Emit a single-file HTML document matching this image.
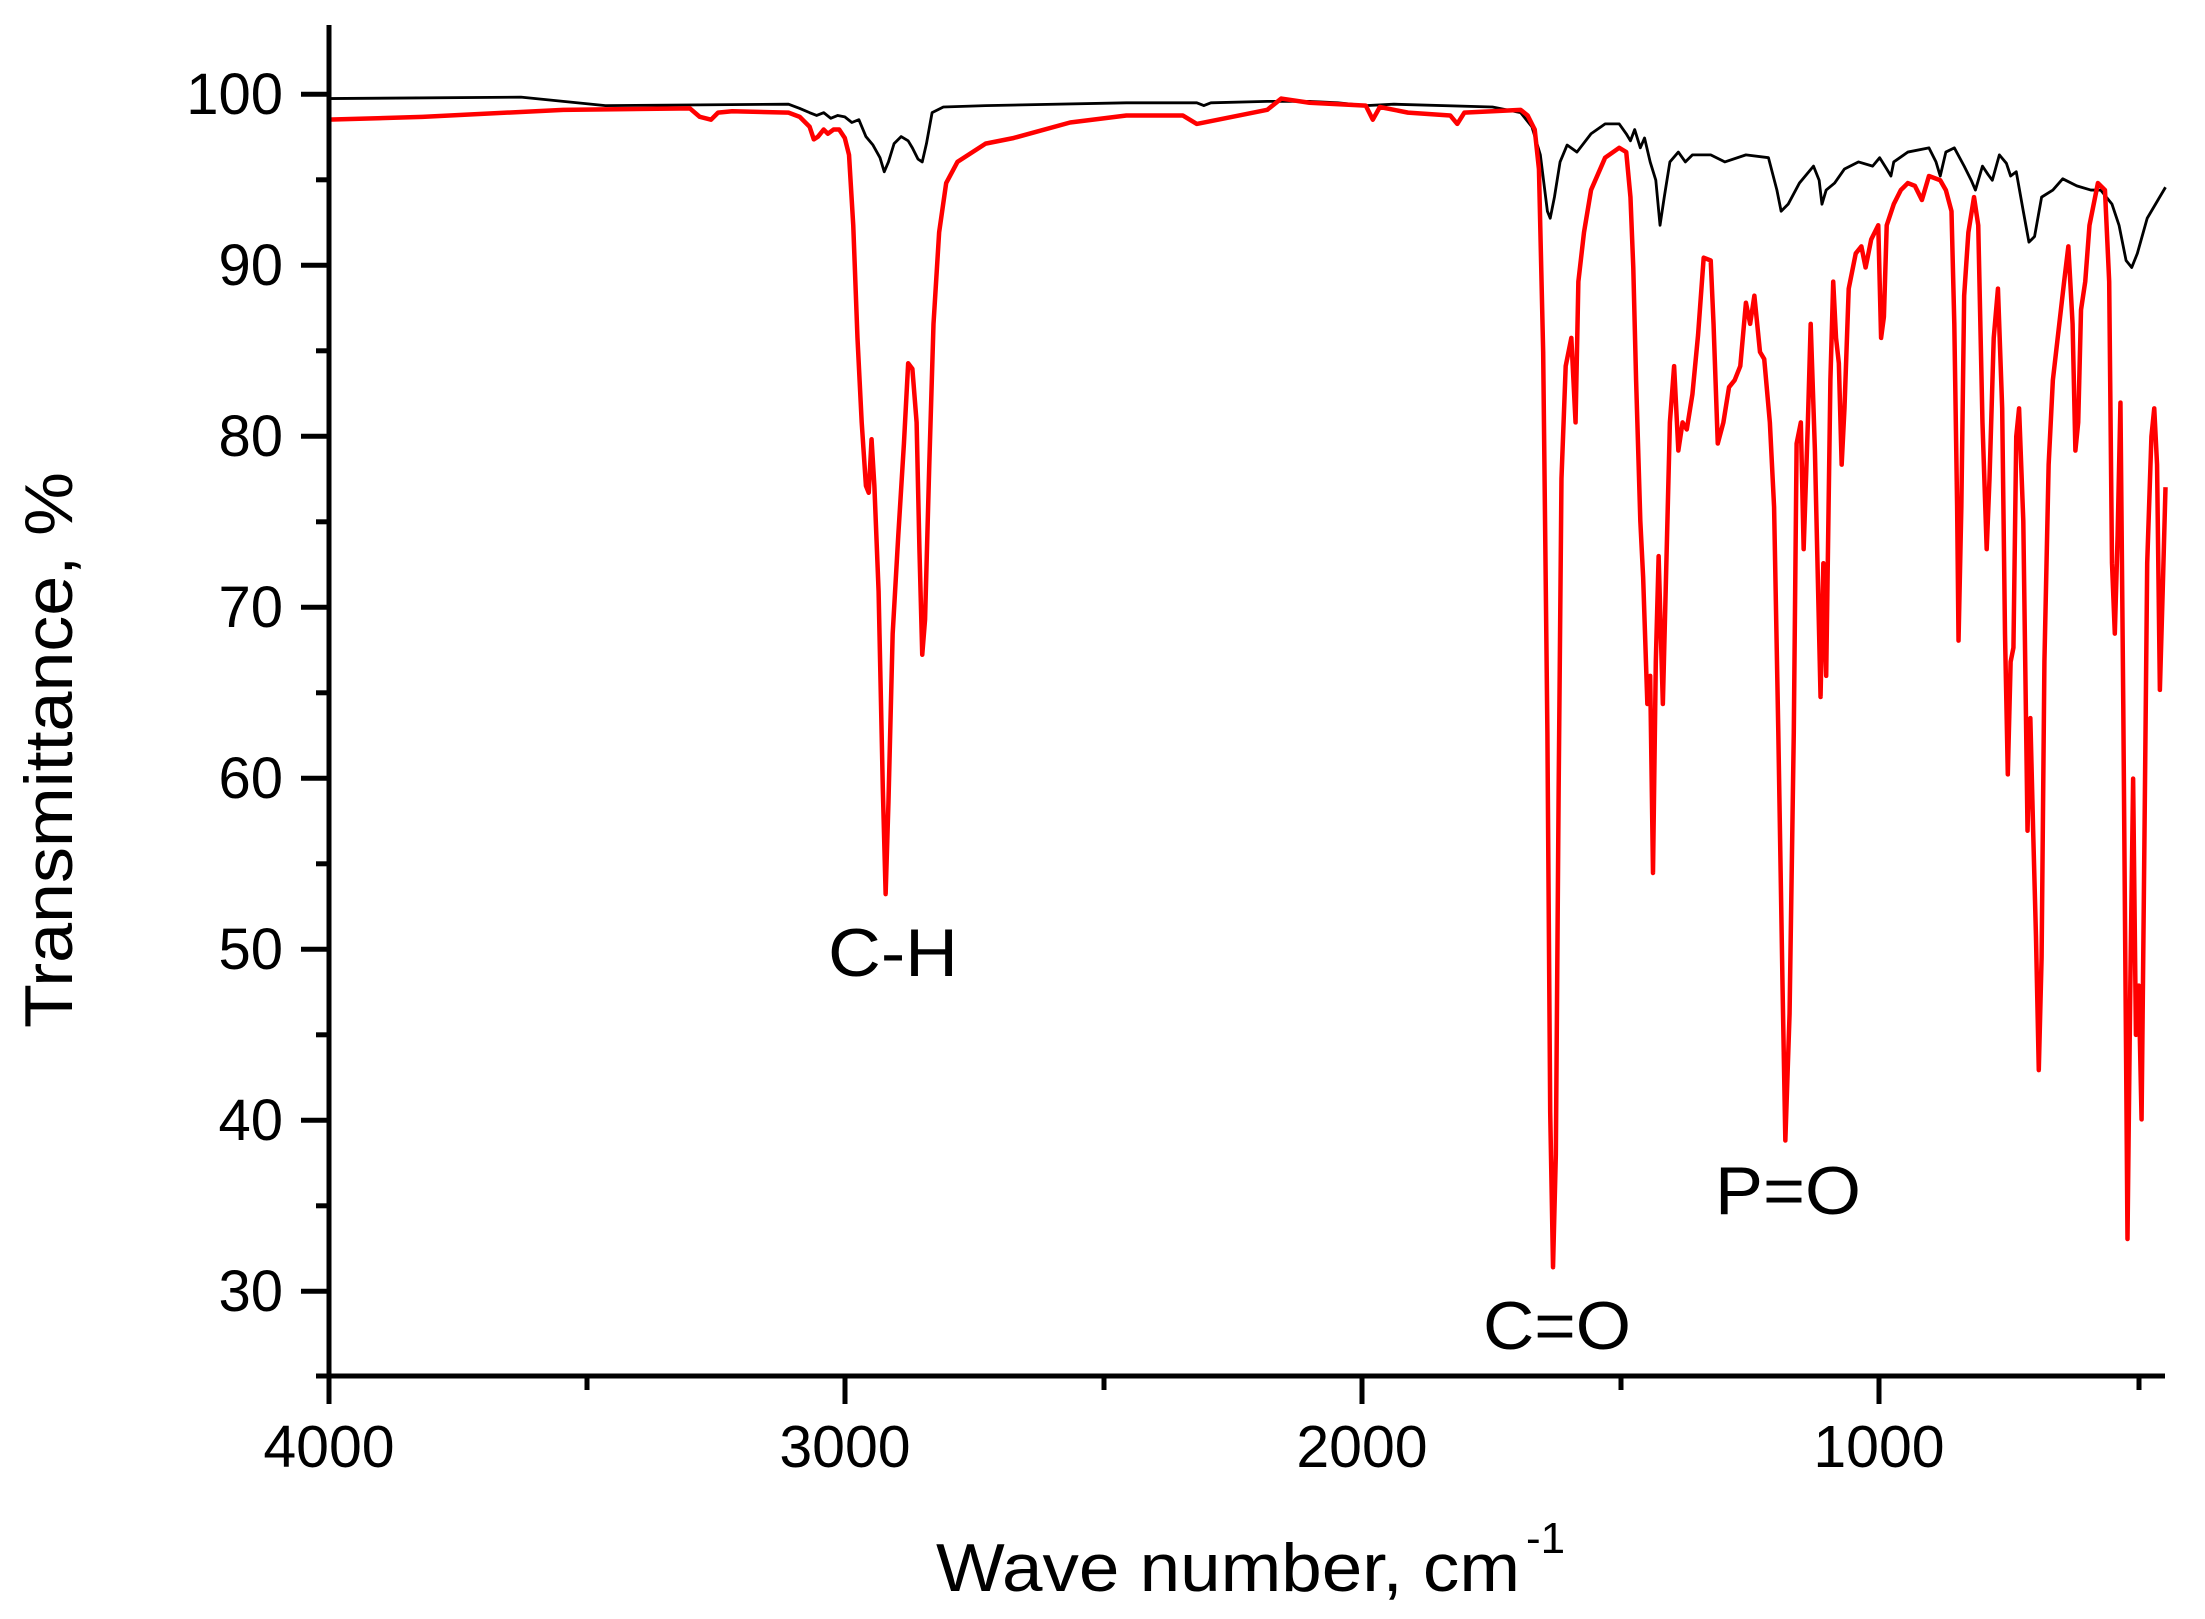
<!DOCTYPE html>
<html><head><meta charset="utf-8"><style>html,body{margin:0;padding:0;background:#fff}svg{display:block}</style></head>
<body>
<svg width="2205" height="1619" viewBox="0 0 2205 1619" xmlns="http://www.w3.org/2000/svg" font-family="'Liberation Sans', Arial, sans-serif">
<rect width="2205" height="1619" fill="#fff"/>
<g transform="scale(1.408)" fill="none" stroke-linejoin="round">
<polyline stroke="#000" stroke-width="2" points="233,70 370,69 400,72 430,75 560,74 568,77 575,80 580,82 585,80 590,84 595,82 600,83 605,87 610,85 615,97 620,103 625,112 628,122 631,115 635,102 640,97 645,100 648,105 652,113 655,115 658,102 662,80 670,76 700,75 800,73 850,73 855,75 860,73 900,72 930,72 950,73 970,75 990,74 1060,76 1080,80 1088,90 1094,110 1099,150 1101,155 1104,140 1108,115 1113,103 1120,108 1130,95 1140,88 1150,88 1155,95 1158,100 1161,92 1165,105 1168,98 1172,115 1176,128 1179,160 1182,140 1186,115 1192,108 1197,115 1202,110 1215,110 1225,115 1240,110 1256,112 1262,135 1265,150 1270,145 1278,130 1288,118 1292,128 1294,145 1297,135 1303,130 1310,120 1320,115 1330,118 1335,112 1340,120 1343,125 1345,115 1355,108 1370,105 1375,115 1378,125 1382,108 1388,105 1395,118 1400,128 1403,135 1408,118 1412,124 1415,128 1420,110 1425,116 1428,125 1432,122 1437,150 1441,172 1445,168 1450,140 1458,135 1465,127 1475,132 1485,135 1492,135 1500,145 1505,160 1510,185 1514,190 1518,180 1525,155 1538,133"/>
<polyline stroke="#ff0000" stroke-width="3.2" points="233,85 300,83 400,78 490,77 497,83 505,85 510,80 520,79 560,80 568,83 575,90 578,99 581,97 585,92 588,95 592,92 596,92 600,98 603,110 606,160 609,240 612,300 615,345 617,350 619,312 621,345 624,420 627,560 629,635 631,570 634,450 638,380 642,315 645,258 648,262 651,300 653,390 655,465 657,440 660,330 663,230 667,165 672,130 680,115 700,102 720,98 760,87 800,82 840,82 850,88 870,84 900,78 910,70 930,73 970,75 975,85 980,76 1000,80 1030,82 1035,88 1040,80 1080,78 1085,82 1090,92 1093,120 1096,250 1099,520 1101,790 1103,900 1105,820 1107,560 1109,340 1112,260 1116,240 1119,300 1121,200 1125,165 1130,135 1140,112 1150,105 1155,108 1158,140 1160,190 1162,270 1165,370 1167,410 1170,500 1172,480 1174,620 1176,470 1178,395 1181,500 1183,420 1186,300 1189,260 1192,320 1195,300 1198,305 1202,280 1206,238 1210,183 1215,185 1217,230 1220,315 1224,300 1228,275 1232,270 1236,260 1240,215 1243,230 1246,210 1250,250 1253,255 1257,300 1260,360 1263,520 1266,700 1268,810 1271,720 1274,520 1276,315 1279,300 1281,390 1284,300 1286,230 1289,320 1293,495 1295,400 1297,480 1300,270 1302,200 1304,240 1306,258 1308,330 1310,290 1313,205 1318,180 1322,175 1325,190 1329,170 1334,160 1336,240 1338,225 1340,160 1345,145 1350,135 1355,130 1360,132 1365,142 1370,125 1378,128 1382,135 1386,150 1388,230 1390,360 1391,455 1393,360 1395,210 1398,165 1402,140 1405,160 1408,300 1411,390 1413,340 1416,240 1419,205 1422,290 1424,450 1426,550 1428,470 1430,460 1432,310 1434,290 1437,370 1440,590 1442,510 1444,590 1446,665 1448,760 1450,680 1452,470 1455,330 1458,270 1462,235 1466,200 1469,175 1472,230 1474,320 1476,300 1478,220 1481,200 1484,160 1490,130 1495,135 1498,200 1500,400 1502,450 1504,380 1506,286 1508,500 1510,750 1511,880 1513,700 1515,553 1517,735 1519,700 1521,795 1523,600 1525,400 1528,310 1530,290 1532,330 1534,490 1536,420 1538,346"/>
</g>
<g stroke="#000" stroke-width="5">
<line x1="329" y1="25" x2="329" y2="1404"/>
<line x1="316" y1="1376" x2="2165" y2="1376"/>
<line x1="301" y1="94.3" x2="329" y2="94.3"/>
<line x1="301" y1="265.3" x2="329" y2="265.3"/>
<line x1="301" y1="436.3" x2="329" y2="436.3"/>
<line x1="301" y1="607.3" x2="329" y2="607.3"/>
<line x1="301" y1="778.3" x2="329" y2="778.3"/>
<line x1="301" y1="949.3" x2="329" y2="949.3"/>
<line x1="301" y1="1120.3" x2="329" y2="1120.3"/>
<line x1="301" y1="1291.3" x2="329" y2="1291.3"/>
<line x1="316" y1="179.8" x2="329" y2="179.8"/>
<line x1="316" y1="350.8" x2="329" y2="350.8"/>
<line x1="316" y1="521.8" x2="329" y2="521.8"/>
<line x1="316" y1="692.8" x2="329" y2="692.8"/>
<line x1="316" y1="863.8" x2="329" y2="863.8"/>
<line x1="316" y1="1034.8" x2="329" y2="1034.8"/>
<line x1="316" y1="1205.8" x2="329" y2="1205.8"/>
<line x1="845" y1="1376" x2="845" y2="1404"/>
<line x1="1362" y1="1376" x2="1362" y2="1404"/>
<line x1="1879" y1="1376" x2="1879" y2="1404"/>
<line x1="587" y1="1376" x2="587" y2="1390"/>
<line x1="1104" y1="1376" x2="1104" y2="1390"/>
<line x1="1621" y1="1376" x2="1621" y2="1390"/>
<line x1="2139" y1="1376" x2="2139" y2="1390"/>
</g>
<g font-size="58" fill="#000" text-anchor="end">
<text x="283" y="114">100</text>
<text x="283" y="285">90</text>
<text x="283" y="456">80</text>
<text x="283" y="627">70</text>
<text x="283" y="798">60</text>
<text x="283" y="969">50</text>
<text x="283" y="1140">40</text>
<text x="283" y="1311">30</text>
</g>
<g font-size="59" fill="#000" text-anchor="middle">
<text x="329" y="1467">4000</text>
<text x="845" y="1467">3000</text>
<text x="1362" y="1467">2000</text>
<text x="1879" y="1467">1000</text>
</g>
<text transform="translate(72,1028) rotate(-90)" font-size="68" textLength="556" lengthAdjust="spacingAndGlyphs">Transmittance, %</text>
<text x="936" y="1591" font-size="68" textLength="584" lengthAdjust="spacingAndGlyphs">Wave number, cm</text>
<text x="1526" y="1553" font-size="44">-1</text>
<text x="828" y="976" font-size="68" textLength="130" lengthAdjust="spacingAndGlyphs">C-H</text>
<text x="1483" y="1349" font-size="68" textLength="148" lengthAdjust="spacingAndGlyphs">C=O</text>
<text x="1715" y="1214" font-size="68" textLength="146" lengthAdjust="spacingAndGlyphs">P=O</text>
</svg>
</body></html>
